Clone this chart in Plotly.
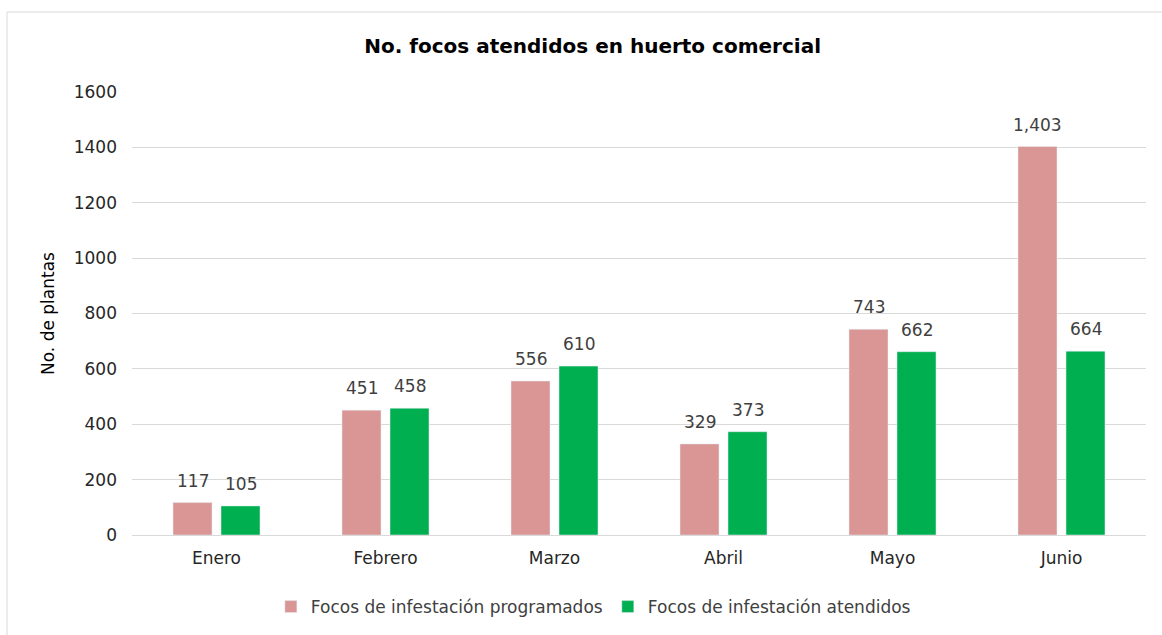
import plotly.graph_objects as go

meses = ["Enero", "Febrero", "Marzo", "Abril", "Mayo", "Junio"]
programados = [117, 451, 556, 329, 743, 1403]
atendidos = [105, 458, 610, 373, 662, 664]
serie_nombres = ["Focos de infestación programados", "Focos de infestación atendidos"]
y_ticks = [0, 200, 400, 600, 800, 1000, 1200, 1400, 1600]

FONT = "DejaVu Sans"
FS = 17
W, H = 1162, 635
L, R, T, B = 132, 16, 92, 100
pw, ph = W - L - R, H - T - B

def px_x(p):
    return (p - L) / pw

def px_y(p):
    return (H - B - p) / ph

fig = go.Figure()
fig.add_trace(go.Bar(
    x=meses, y=programados, name=serie_nombres[0],
    marker=dict(color="#D99694"),
))
fig.add_trace(go.Bar(
    x=meses, y=atendidos, name=serie_nombres[1],
    marker=dict(color="#00B050"),
))

# data labels placed above each bar
for serie, shift in ((programados, -24), (atendidos, 24)):
    for m, v in zip(meses, serie):
        fig.add_annotation(x=m, y=v, xref="x", yref="y", text=f"{v:,}",
                           showarrow=False, xshift=shift, yshift=22,
                           yanchor="middle", xanchor="center",
                           font=dict(size=FS, color="#404040", family=FONT))

fig.update_layout(
    width=W, height=H,
    margin=dict(l=L, r=R, t=T, b=B, autoexpand=False),
    paper_bgcolor="white", plot_bgcolor="white",
    font=dict(family=FONT, size=FS, color="#404040"),
    title=dict(text="<b>No. focos atendidos en huerto comercial</b>",
               x=0.51, xanchor="center", y=1 - 46 / H, yanchor="middle",
               font=dict(size=20, color="#000000", family=FONT)),
    barmode="group", bargap=0.432, bargroupgap=0.1875,
    showlegend=True,
    legend=dict(orientation="h", x=0.455, xanchor="center", y=-0.122, yanchor="top",
                font=dict(size=FS, color="#404040", family=FONT), traceorder="normal",
                itemwidth=30),
    xaxis=dict(showgrid=False, showline=True, linecolor="#D9D9D9", linewidth=1,
               ticks="", tickfont=dict(size=FS, color="#262626"), ticklabelstandoff=8),
    yaxis=dict(range=[0, 1600], tickvals=y_ticks, showgrid=True, gridcolor="#D9D9D9",
               gridwidth=1, zeroline=False, ticks="", tickfont=dict(size=FS, color="#262626"),
               title=dict(text="No. de plantas", font=dict(size=FS, color="#000000"), standoff=14),
               ticklabelstandoff=14),
)

fig.add_shape(type="rect", xref="paper", yref="paper",
              x0=px_x(7), x1=px_x(1200), y0=px_y(700), y1=px_y(12),
              line=dict(color="#D9D9D9", width=1), fillcolor="rgba(0,0,0,0)", layer="below")

fig.write_html("out.html", config={"displayModeBar": False},
               post_script="document.body.style.margin='0px';")
